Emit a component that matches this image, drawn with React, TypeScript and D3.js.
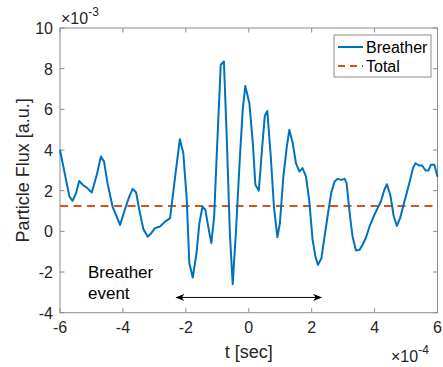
import React from "react";
import * as d3 from "d3";

// time in units of 1e-4 s, flux in units of 1e-3 a.u.
const timeValues = [
  -6.0, -5.7, -5.6, -5.49, -5.39, -5.28, -5.15, -4.99, -4.83, -4.7,
  -4.6, -4.49, -4.33, -4.09, -3.94, -3.8, -3.69, -3.58, -3.48, -3.35,
  -3.21, -3.1, -2.98, -2.82, -2.66, -2.5, -2.34, -2.19, -2.08, -1.97,
  -1.89, -1.78, -1.66, -1.57, -1.47, -1.38, -1.27, -1.19, -1.1, -1.02,
  -0.89, -0.79, -0.7, -0.6, -0.51, -0.41, -0.28, -0.19, -0.11, 0.02,
  0.13, 0.21, 0.32, 0.42, 0.51, 0.59, 0.7, 0.8, 0.91, 0.99,
  1.1, 1.21, 1.29, 1.4, 1.5, 1.61, 1.71, 1.82, 1.92, 2.03,
  2.12, 2.2, 2.31, 2.41, 2.52, 2.62, 2.73, 2.82, 2.94, 3.05,
  3.11, 3.22, 3.3, 3.41, 3.52, 3.62, 3.73, 3.84, 3.97, 4.07,
  4.2, 4.31, 4.39, 4.5, 4.61, 4.71, 4.81, 4.92, 5.02, 5.13,
  5.22, 5.3, 5.41, 5.51, 5.62, 5.71, 5.79, 5.9, 6.0,
];

const breatherFlux = [
  4.0, 1.71, 1.5, 1.88, 2.48, 2.29, 2.15, 1.91, 2.78, 3.68,
  3.43, 2.37, 1.22, 0.32, 1.06, 1.71, 2.09, 1.91, 1.06, 0.11,
  -0.26, -0.09, 0.16, 0.24, 0.48, 0.65, 2.69, 4.53, 3.84, 1.55,
  -1.56, -2.27, -1.07, 0.4, 1.22, 1.06, 0.07, -0.58, 0.73, 3.68,
  8.19, 8.35, 4.66, -0.09, -2.6, -0.09, 3.68, 6.0, 7.15, 6.3,
  4.33, 2.29, 2.0, 4.0, 5.68, 5.92, 3.68, 1.22, -0.29, 0.4,
  2.69, 4.17, 4.99, 4.33, 3.35, 2.94, 3.11, 2.69, 1.55, -0.42,
  -1.24, -1.65, -1.32, -0.26, 0.89, 1.88, 2.45, 2.58, 2.53, 2.58,
  2.37, 0.73, -0.26, -0.94, -0.91, -0.66, -0.29, 0.24, 0.73, 1.06,
  1.47, 2.04, 2.32, 1.79, 0.73, 0.27, 0.65, 1.3, 1.88, 2.53,
  3.11, 3.35, 3.24, 3.24, 2.99, 2.99, 3.27, 3.27, 2.69,
];

const totalFlux = 1.25;

const xTicks = [-6, -4, -2, 0, 2, 4, 6];
const yTicks = [-4, -2, 0, 2, 4, 6, 8, 10];

const eventSpan = [-2.3, 2.3];
const eventLevel = -3.25;

const W = 443;
const H = 367;
const margin = { left: 60, top: 28, right: 5.5, bottom: 54.3 };
const font = "'Liberation Sans', Arial, Helvetica, sans-serif";
const blue = "#0072BD";
const orange = "#D95319";
const axisColor = "#8c8c8c";
const textColor = "#262626";

export default function App() {
  const x = d3.scaleLinear().domain([-6, 6]).range([margin.left, W - margin.right]);
  const y = d3.scaleLinear().domain([-4, 10]).range([H - margin.bottom, margin.top]);
  const [x0, x1] = x.range();
  const [y0, y1] = y.range();

  const points = timeValues.map((t, i) => [t, breatherFlux[i]] as [number, number]);
  const line = d3
    .line<[number, number]>()
    .x((d) => x(d[0]))
    .y((d) => y(d[1]));

  const tickLen = 4.5;

  return (
    <svg
      width={W}
      height={H}
      style={{ position: "absolute", left: 0, top: 0, background: "#fff" }}
      fontFamily={font}
    >
      <defs>
        <marker id="arrow" viewBox="0 0 10 10" refX="9" refY="5" markerWidth="9" markerHeight="9" orient="auto-start-reverse">
          <path d="M0,1 L10,5 L0,9 L3,5 Z" fill="#000" />
        </marker>
      </defs>

      {/* ticks on all four sides, pointing inward */}
      {xTicks.map((t) => (
        <g key={"xt" + t}>
          <line x1={x(t)} x2={x(t)} y1={y0} y2={y0 - tickLen} stroke={axisColor} />
          <line x1={x(t)} x2={x(t)} y1={y1} y2={y1 + tickLen} stroke={axisColor} />
          <text x={x(t)} y={y0 + 20} textAnchor="middle" fontSize={16} fill={textColor}>
            {t}
          </text>
        </g>
      ))}
      {yTicks.map((v) => (
        <g key={"yt" + v}>
          <line x1={x0} x2={x0 + tickLen} y1={y(v)} y2={y(v)} stroke={axisColor} />
          <line x1={x1} x2={x1 - tickLen} y1={y(v)} y2={y(v)} stroke={axisColor} />
          <text x={x0 - 7} y={y(v) + 6} textAnchor="end" fontSize={16} fill={textColor}>
            {v}
          </text>
        </g>
      ))}

      <rect x={x0} y={y1} width={x1 - x0} height={y0 - y1} fill="none" stroke={axisColor} strokeWidth={1} />

      {/* total flux */}
      <line
        x1={x0}
        x2={x1}
        y1={y(totalFlux)}
        y2={y(totalFlux)}
        stroke={orange}
        strokeWidth={2}
        strokeDasharray="8,5.5"
      />

      {/* breather flux */}
      <path d={line(points) ?? ""} fill="none" stroke={blue} strokeWidth={2} strokeLinejoin="round" />

      {/* breather event annotation */}
      <line
        x1={x(eventSpan[0])}
        x2={x(eventSpan[1])}
        y1={y(eventLevel)}
        y2={y(eventLevel)}
        stroke="#000"
        strokeWidth={1}
        markerStart="url(#arrow)"
        markerEnd="url(#arrow)"
      />
      <text x={88} y={278} fontSize={17} fill="#000">Breather</text>
      <text x={88} y={299} fontSize={17} fill="#000">event</text>

      {/* exponents */}
      <text x={61} y={24} fontSize={16} fill={textColor}>
        ×10
        <tspan dy={-8} fontSize={12}>-3</tspan>
      </text>
      <text x={391} y={362} fontSize={16} fill={textColor}>
        ×10
        <tspan dy={-8} fontSize={12}>-4</tspan>
      </text>

      {/* axis labels */}
      <text x={(x0 + x1) / 2} y={358} textAnchor="middle" fontSize={18} fill={textColor}>
        t [sec]
      </text>
      <text
        transform={`translate(29,${(y0 + y1) / 2}) rotate(-90)`}
        textAnchor="middle"
        fontSize={18}
        fill={textColor}
      >
        Particle Flux [a.u.]
      </text>

      {/* legend */}
      <g>
        <rect x={334} y={35} width={97} height={42} fill="#fff" stroke={axisColor} />
        <line x1={338} x2={363} y1={47} y2={47} stroke={blue} strokeWidth={2} />
        <text x={366} y={53} fontSize={16} fill="#000">Breather</text>
        <line x1={338} x2={363} y1={66} y2={66} stroke={orange} strokeWidth={2} strokeDasharray="7,5" />
        <text x={366} y={72} fontSize={16} fill="#000">Total</text>
      </g>
    </svg>
  );
}
